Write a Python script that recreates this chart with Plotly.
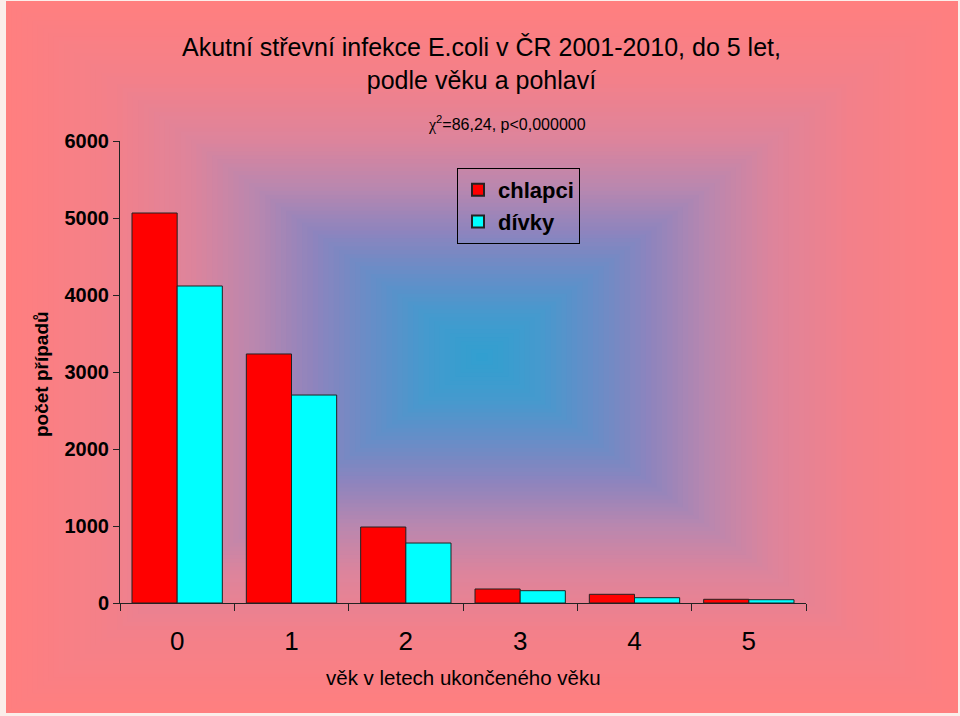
import plotly.graph_objects as go

categories = ["0", "1", "2", "3", "4", "5"]
chlapci = [5065, 3234, 987, 182, 113, 48]
divky = [4117, 2701, 779, 160, 69, 43]
y_ticks = [0, 1000, 2000, 3000, 4000, 5000, 6000]

W, H = 960, 716
L, R, T, B = 120, 154, 141, 113
pw, ph = W - L - R, H - T - B


def px2x(px):
    return (px - L) / pw


def py2y(py):
    return (H - B - py) / ph


# colour stops for the rectangular background gradient (t = 0 centre, 1 edge)
stops = [
    (0.0, (48, 160, 208)),
    (0.12, (68, 154, 206)),
    (0.23, (100, 142, 200)),
    (0.354, (140, 132, 190)),
    (0.48, (185, 135, 175)),
    (0.62, (222, 132, 155)),
    (0.78, (243, 128, 138)),
    (1.0, (255, 127, 127)),
]


def col_at(t):
    for (t0, c0), (t1, c1) in zip(stops[:-1], stops[1:]):
        if t <= t1:
            f = (t - t0) / (t1 - t0) if t1 > t0 else 0
            c = [round(a + (b - a) * f) for a, b in zip(c0, c1)]
            return "rgb(%d,%d,%d)" % tuple(c)
    return "rgb(%d,%d,%d)" % stops[-1][1]


cx, cy = 482, 357
hw, hh = 476, 356
shapes = []
N = 90
for i in range(N, 0, -1):
    t = i / N
    shapes.append(dict(
        type="rect", xref="paper", yref="paper", layer="below",
        x0=px2x(cx - hw * t), x1=px2x(cx + hw * t),
        y0=py2y(cy + hh * t), y1=py2y(cy - hh * t),
        fillcolor=col_at(t), line=dict(width=0),
    ))

fig = go.Figure()
fig.add_trace(go.Bar(x=categories, y=chlapci, name="chlapci",
                     marker=dict(color="#ff0000", line=dict(color="#222222", width=1))))
fig.add_trace(go.Bar(x=categories, y=divky, name="dívky",
                     marker=dict(color="#00ffff", line=dict(color="#222222", width=1))))

font = "Liberation Sans, Arial, sans-serif"
annotations = [
    dict(text="Akutní střevní infekce E.coli v ČR 2001-2010, do 5 let,<br>podle věku a pohlaví",
         xref="paper", yref="paper", x=px2x(481), y=py2y(64), showarrow=False,
         font=dict(family=font, size=25, color="black"), xanchor="center", yanchor="middle"),
    dict(text="<span style='font-family:Liberation Serif'>χ</span><sup>2</sup>=86,24, p&lt;0,000000",
         xref="paper", yref="paper", x=px2x(507), y=py2y(124), showarrow=False,
         font=dict(family=font, size=16, color="black"), xanchor="center", yanchor="middle"),
    dict(text="<b>počet případů</b>", textangle=-90,
         xref="paper", yref="paper", x=px2x(41), y=py2y(374), showarrow=False,
         font=dict(family=font, size=19, color="black"), xanchor="center", yanchor="middle"),
    dict(text="věk v letech ukončeného věku",
         xref="paper", yref="paper", x=px2x(463), y=py2y(677), showarrow=False,
         font=dict(family=font, size=20.5, color="black"), xanchor="center", yanchor="middle"),
]

fig.update_layout(
    width=W, height=H,
    margin=dict(l=L, r=R, t=T, b=B, pad=0),
    paper_bgcolor="#fbeeea", plot_bgcolor="rgba(0,0,0,0)",
    barmode="group", bargap=0.21, bargroupgap=0,
    shapes=shapes, annotations=annotations,
    showlegend=True,
    legend=dict(x=px2x(457), y=py2y(168), xanchor="left", yanchor="top",
                bgcolor="rgba(0,0,0,0)", bordercolor="black", borderwidth=1,
                font=dict(family=font, size=22, color="black", weight="bold"),
                tracegroupgap=0, itemsizing="constant"),
    xaxis=dict(type="category", tickson="boundaries", ticks="outside", ticklen=7,
               tickcolor="#222", showline=True, linecolor="#222", linewidth=1,
               showgrid=False, tickfont=dict(family=font, size=26, color="black"),
               ticklabelstandoff=15),
    yaxis=dict(range=[0, 6000], tickvals=y_ticks, ticks="outside", ticklen=6,
               tickcolor="#222", showline=True, linecolor="#222", linewidth=1,
               showgrid=False, zeroline=False,
               tickfont=dict(family=font, size=20, color="black", weight="bold")),
)

fig.write_html("out.html", config={"displayModeBar": False},
               post_script="document.body.style.margin='0';")
